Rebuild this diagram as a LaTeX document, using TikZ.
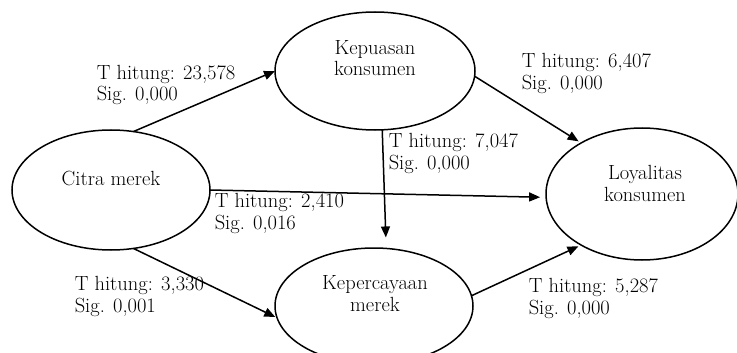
\documentclass[tikz,border=0pt]{standalone}
\usetikzlibrary{shapes.geometric,arrows.meta}
\begin{document}
\begin{tikzpicture}[x=1pt,y=-1pt,line width=1.5pt,
    font=\fontsize{20.5}{21.5}\selectfont,
    var/.style={draw,ellipse,outer sep=0pt,inner sep=0pt},
    txt/.style={inner sep=0pt,align=center,anchor=base},
    hit/.style={inner sep=0pt,align=left,anchor=base west}]
  \useasboundingbox (0,0) rectangle (737,353);
  \node[var,minimum width=198pt,minimum height=120pt] (cm) at (111,190) {};
  \node[var,minimum width=200pt,minimum height=118pt] (kp) at (375,71) {};
  \node[var,minimum width=192pt,minimum height=132pt] (ly) at (642,194) {};
  \node[var,minimum width=198pt,minimum height=116pt] (kc) at (374,306) {};
  \node[txt] (cmtxt) at (111,185) {Citra merek};
  \node[txt] (kptxt) at (375,76) {Kepuasan\\konsumen};
  \node[txt] (lytxt) at (645,201) {Loyalitas\\konsumen};
  \node[txt] (kctxt) at (375,311) {Kepercayaan\\merek};
  \node[hit] (lcmkp) at (96,101) {T hitung: 23,578\\Sig. 0,000};
  \node[hit] (lkply) at (521,89) {T hitung: 6,407\\Sig. 0,000};
  \node[hit] (lkpkc) at (388,169) {T hitung: 7,047\\Sig. 0,000};
  \node[hit] (lcmly) at (214,229) {T hitung: 2,410\\Sig. 0,016};
  \node[hit] (lcmkc) at (74,312) {T hitung: 3,330\\Sig. 0,001};
  \node[hit] (lkcly) at (528,314) {T hitung: 5,287\\Sig. 0,000};
  \begin{scope}[-{Triangle[length=11pt,width=9pt]}]
    \draw (cm.69) to (kp.west);
    \draw[shorten >=3pt] (kp.-3) to (ly.140);
    \draw[shorten >=11pt] (kp.-83) to (kc.78);
    \draw[shorten >=6pt] (cm.east) to (ly.182);
    \draw[shorten >=2pt] (cm.-69) to (kc.187);
    \draw[shorten >=3pt] (kc.6) to (ly.220);
  \end{scope}
\end{tikzpicture}
\end{document}
